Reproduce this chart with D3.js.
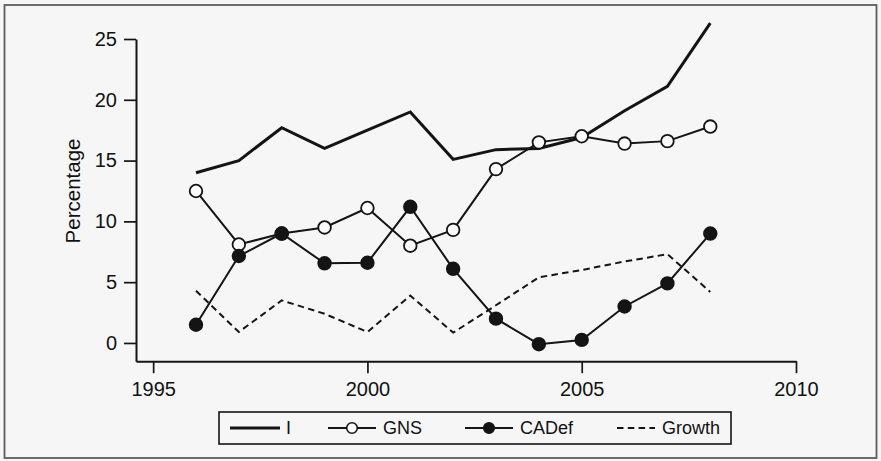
<!DOCTYPE html>
<html>
<head>
<meta charset="utf-8">
<script src="https://cdn.jsdelivr.net/npm/d3@7"></script>
<style>
  html, body { margin: 0; padding: 0; background: #f6f6f6; }
  svg { display: block; }
  text { font-family: "Liberation Sans", Arial, Helvetica, sans-serif; fill: #111; }
</style>
</head>
<body>
<svg id="chart" width="881" height="461"></svg>
<script>
// ---- data -------------------------------------------------------------
const years      = [1996, 1997, 1998, 1999, 2000, 2001, 2002, 2003, 2004, 2005, 2006, 2007, 2008];
const investment = [14.0, 15.0, 17.7, 16.0, 17.5, 19.0, 15.1, 15.9, 16.0, 16.9, 19.1, 21.1, 26.3]; // I
const savings    = [12.5,  8.1,  9.0,  9.5, 11.1,  8.0,  9.3, 14.3, 16.5, 17.0, 16.4, 16.6, 17.8]; // GNS
const caDeficit  = [ 1.5,  7.15, 9.0,  6.55, 6.6, 11.2,  6.1,  2.0, -0.1, 0.25, 3.0,  4.9,  9.0]; // CADef
const growth     = [ 4.3,  0.9,  3.5,  2.4,  0.9,  3.9, 0.85,  3.1,  5.4,  6.0,  6.7,  7.3,  4.2]; // Growth

const xTicks = [1995, 2000, 2005, 2010];
const yTicks = [0, 5, 10, 15, 20, 25];
const seriesNames = ["I", "GNS", "CADef", "Growth"];
const yTitle = "Percentage";

// ---- layout -----------------------------------------------------------
const ink = "#141414";
const bg = "#f6f6f6";
const svg = d3.select("#chart");

const x = d3.scaleLinear().domain([1994.6, 2010]).range([136, 796]);
const y = d3.scaleLinear().domain([-1.5, 25]).range([361.2, 39]);

// outer frame
svg.append("rect")
  .attr("x", 4.5).attr("y", 5).attr("width", 872).attr("height", 453)
  .attr("fill", bg).attr("stroke", "#5c5c5c").attr("stroke-width", 1.8);

// ---- axes ---------------------------------------------------------------
const yAxis = svg.append("g")
  .attr("transform", `translate(${x.range()[0]},0)`)
  .call(d3.axisLeft(y).tickValues(yTicks).tickSize(12).tickSizeOuter(0).tickPadding(7));

const xAxis = svg.append("g")
  .attr("transform", `translate(0,${y.range()[0]})`)
  .call(d3.axisBottom(x).tickValues(xTicks).tickFormat(d3.format("d"))
        .tickSize(12).tickSizeOuter(0).tickPadding(9));

[yAxis, xAxis].forEach(g => {
  g.select(".domain").attr("stroke", ink).attr("stroke-width", 2);
  g.selectAll(".tick line").attr("stroke", ink).attr("stroke-width", 1.7);
  g.selectAll(".tick text").attr("fill", ink)
    .style("font-size", "20px")
    .style("font-family", '"Liberation Sans", Arial, Helvetica, sans-serif');
});

svg.append("text")
  .attr("transform", `translate(80,${(y(0) + y(25)) / 2}) rotate(-90)`)
  .attr("text-anchor", "middle")
  .style("font-size", "20.5px")
  .text(yTitle);

// ---- series -------------------------------------------------------------
const rows = years.map((yr, i) => ({
  yr, I: investment[i], GNS: savings[i], CADef: caDeficit[i], Growth: growth[i]
}));

const lineFor = key => d3.line().x(d => x(d.yr)).y(d => y(d[key]));

const styles = {
  I:      { width: 3.0, dash: null,      marker: null },
  GNS:    { width: 2.0, dash: null,      marker: "open" },
  CADef:  { width: 2.0, dash: null,      marker: "solid" },
  Growth: { width: 2.0, dash: "6.5,4.3", marker: null }
};

const plot = svg.append("g");

seriesNames.forEach(key => {
  const s = styles[key];
  plot.append("path")
    .datum(rows)
    .attr("fill", "none")
    .attr("stroke", ink)
    .attr("stroke-width", s.width)
    .attr("stroke-linejoin", "miter")
    .attr("stroke-dasharray", s.dash)
    .attr("d", lineFor(key));

  if (s.marker) {
    plot.append("g").selectAll("circle")
      .data(rows)
      .join("circle")
      .attr("cx", d => x(d.yr))
      .attr("cy", d => y(d[key]))
      .attr("r", 6.3)
      .attr("fill", s.marker === "open" ? "#fbfbfb" : ink)
      .attr("stroke", ink)
      .attr("stroke-width", 1.8);
  }
});

// ---- legend -------------------------------------------------------------
const legendBox = { x: 219, y: 412, w: 512, h: 32 };
const legendSlots = [
  { key: "I",      x0: 230, x1: 280, tx: 286 },
  { key: "GNS",    x0: 328, x1: 376, tx: 383 },
  { key: "CADef",  x0: 465, x1: 513, tx: 520 },
  { key: "Growth", x0: 617, x1: 655, tx: 662 }
];

const legend = svg.append("g");
legend.append("rect")
  .attr("x", legendBox.x).attr("y", legendBox.y)
  .attr("width", legendBox.w).attr("height", legendBox.h)
  .attr("fill", "none").attr("stroke", ink).attr("stroke-width", 1.6);

const cy = legendBox.y + legendBox.h / 2;
legendSlots.forEach(slot => {
  const s = styles[slot.key];
  legend.append("line")
    .attr("x1", slot.x0).attr("x2", slot.x1)
    .attr("y1", cy).attr("y2", cy)
    .attr("stroke", ink)
    .attr("stroke-width", s.width)
    .attr("stroke-dasharray", s.dash);
  if (s.marker) {
    legend.append("circle")
      .attr("cx", (slot.x0 + slot.x1) / 2).attr("cy", cy)
      .attr("r", 5.3)
      .attr("fill", s.marker === "open" ? "#fbfbfb" : ink)
      .attr("stroke", ink).attr("stroke-width", 1.6);
  }
  legend.append("text")
    .attr("x", slot.tx).attr("y", cy)
    .attr("dy", "0.36em")
    .style("font-size", "18px")
    .text(slot.key);
});
</script>
</body>
</html>
